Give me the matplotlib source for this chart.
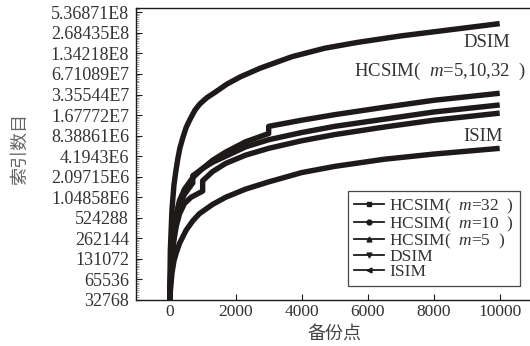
import numpy as np
import matplotlib
matplotlib.use('Agg')
import matplotlib.pyplot as plt
from matplotlib.lines import Line2D
from matplotlib.ticker import FixedLocator, FixedFormatter, LogLocator, NullFormatter

plt.rcParams['font.family'] = ['Liberation Serif', 'Noto Sans CJK SC']
plt.rcParams['mathtext.fontset'] = 'custom'
plt.rcParams['mathtext.it'] = 'Liberation Serif:italic'
plt.rcParams['mathtext.rm'] = 'Liberation Serif'

# backup points (x) and index counts (y)
x_dsim = [0, 20, 70, 130, 190, 250, 310, 400, 500, 620, 770, 920, 1130, 1370, 1730,
          2130, 2740, 3700, 4700, 5700, 7000, 8500, 10000]
y_dsim = [3.06e4, 1.73e5, 6.92e5, 1.59e6, 2.58e6, 3.91e6, 5.53e6, 7.83e6, 1.107e7,
          1.46e7, 1.995e7, 2.456e7, 3.02e7, 3.60e7, 4.75e7, 6.05e7, 8.15e7, 1.20e8,
          1.60e8, 1.95e8, 2.42e8, 2.98e8, 3.67e8]

x_m32 = [0, 30, 70, 130, 200, 300, 450, 700, 1000, 1300, 1700, 2300, 3000, 3000,
         4000, 5000, 6500, 8000, 10000]
y_m32 = [3.06e4, 8.65e4, 1.99e5, 3.71e5, 6.02e5, 9.45e5, 1.38e6, 2.03e6, 2.77e6,
         3.65e6, 4.82e6, 6.81e6, 8.99e6, 1.146e7, 1.41e7, 1.70e7, 2.18e7, 2.76e7, 3.50e7]

x_m10 = [0, 30, 70, 130, 200, 300, 450, 700, 700, 1000, 1300, 1700, 2300, 3000,
         4000, 5000, 6500, 8000, 10000]
y_m10 = [3.06e4, 7.53e4, 1.73e5, 3.23e5, 5.24e5, 7.95e5, 1.16e6, 1.70e6, 2.17e6,
         2.77e6, 3.41e6, 4.19e6, 5.73e6, 7.30e6, 9.31e6, 1.146e7, 1.46e7, 1.86e7, 2.36e7]

x_m5 = [0, 30, 70, 130, 200, 300, 450, 650, 1000, 1000, 1300, 1700, 2300, 3000,
        4000, 5000, 6500, 8000, 10000]
y_m5 = [3.06e4, 6.55e4, 1.40e5, 2.45e5, 3.97e5, 6.02e5, 8.52e5, 1.05e6, 1.29e6,
        1.83e6, 2.49e6, 3.29e6, 4.34e6, 5.46e6, 7.05e6, 8.68e6, 1.12e7, 1.41e7, 1.79e7]

x_isim = [0, 30, 70, 130, 200, 300, 500, 700, 900, 1300, 1700, 2300, 3000, 4000,
          5000, 6500, 8000, 10000]
y_isim = [3.06e4, 4.97e4, 8.07e4, 1.22e5, 1.61e5, 2.22e5, 3.46e5, 4.73e5, 6.02e5,
          8.23e5, 1.05e6, 1.38e6, 1.76e6, 2.41e6, 2.97e6, 3.78e6, 4.50e6, 5.46e6]

y_ticks = [2 ** k for k in range(15, 30)]
y_ticklabels = ['32768', '65536', '131072', '262144', '524288', '1.04858E6', '2.09715E6',
                '4.1943E6', '8.38861E6', '1.67772E7', '3.35544E7', '6.71089E7',
                '1.34218E8', '2.68435E8', '5.36871E8']
x_ticks = [0, 2000, 4000, 6000, 8000, 10000]

ink = '#1e1a1a'
text_c = '#333333'
fig = plt.figure(figsize=(5.3, 3.46), dpi=100)
ax = fig.add_axes([136 / 530, 46 / 346, 396.7 / 530, 292 / 346])

series = [
    (x_m32, y_m32, 's', 'HCSIM(  $m$=32  )'),
    (x_m10, y_m10, 'o', 'HCSIM(  $m$=10  )'),
    (x_m5, y_m5, '^', 'HCSIM(  $m$=5  )'),
    (x_dsim, y_dsim, 'v', 'DSIM'),
    (x_isim, y_isim, '<', 'ISIM'),
]
handles = []
for xs, ys, mk, lab in series:
    ax.plot(xs, ys, color=ink, lw=3.9, solid_joinstyle='round', solid_capstyle='butt')
    handles.append(Line2D([], [], color=ink, lw=1.3, marker=mk, ms=3.5, label=lab))

ax.set_yscale('log', base=2)
ax.set_ylim(2 ** 15, 2 ** 29.21)
ax.set_xlim(-1020, 11000)
ax.yaxis.set_major_locator(FixedLocator(y_ticks))
ax.yaxis.set_major_formatter(FixedFormatter(y_ticklabels))
ax.yaxis.set_minor_locator(LogLocator(base=2, subs=np.arange(1.1, 2.0, 0.1), numticks=100))
ax.yaxis.set_minor_formatter(NullFormatter())
ax.set_xticks(x_ticks)

ax.tick_params(axis='both', which='both', direction='in', colors=ink)
ax.tick_params(axis='y', which='major', length=4, width=0.8, labelsize=13, labelcolor=text_c, pad=5)
ax.tick_params(axis='y', which='minor', length=2, width=0.5, color='#777777')
ax.tick_params(axis='x', which='major', length=4, width=0.8, labelsize=12.5, labelcolor=text_c, pad=3)
ax.tick_params(top=False, right=False)
ax.spines['right'].set_visible(False)
for s in ['left', 'bottom', 'top']:
    ax.spines[s].set_color(ink)
    ax.spines[s].set_linewidth(1.0)

ax.set_ylabel('索引数目', fontsize=13, color='#666666')
ax.yaxis.set_label_coords(-0.27, 0.52)
ax.set_xlabel('备份点', fontsize=13, color='#444444', labelpad=4)

ax.text(10310, 2 ** 27.55, 'DSIM', fontsize=13.5, color=text_c, ha='right', va='center')
ax.text(10800, 2 ** 26.1, 'HCSIM(  $m$=5,10,32  )', fontsize=13.5, color=text_c, ha='right', va='center')
ax.text(10100, 2 ** 22.95, 'ISIM', fontsize=13.5, color=text_c, ha='right', va='center')

leg = ax.legend(handles=handles, loc='lower right', bbox_to_anchor=(0.968, 0.048), borderaxespad=0,
                fontsize=12.5, frameon=True, fancybox=False, edgecolor=ink,
                handlelength=1.7, handletextpad=0.3, labelspacing=-0.1, borderpad=0.35)
leg.get_frame().set_linewidth(0.9)
for t in leg.get_texts():
    t.set_color(text_c)

fig.savefig('out.png', dpi=100)
